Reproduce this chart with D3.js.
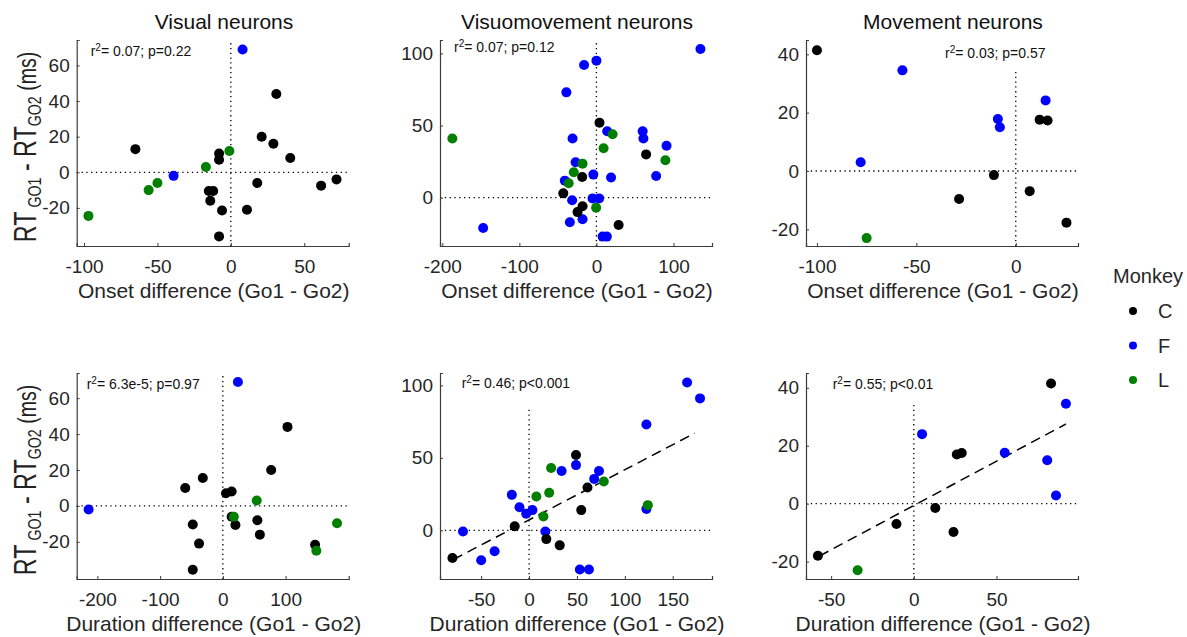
<!DOCTYPE html>
<html><head><meta charset="utf-8">
<script src="https://cdn.jsdelivr.net/npm/d3@7"></script>
<style>body{margin:0;background:#fff}svg{display:block;font-family:"Liberation Sans",Arial,sans-serif}</style>
</head><body><svg id="c" width="1187" height="637"></svg>
<script>
// ---------- data ----------
const monkeys = ["C", "F", "L"];
const monkeyColors = ["#000000", "#0000ff", "#007f00"];
const panelTitles = ["Visual neurons", "Visuomovement neurons", "Movement neurons"];
const xAxisLabels = ["Onset difference (Go1 - Go2)", "Duration difference (Go1 - Go2)"];
const statTexts = ["= 0.07; p=0.22", "= 0.07; p=0.12", "= 0.03; p=0.57",
                   "= 6.3e-5; p=0.97", "= 0.46; p<0.001", "= 0.55; p<0.01"];

// [monkey, x, y]
const visualOnset = [
  ["F",8,69],["F",-39,-2],
  ["C",-65,13],["C",-8,10.5],["C",-8,7],["C",31,44],["C",21,20],["C",29,16],["C",40.5,8],["C",18,-6],
  ["C",61.5,-7.5],["C",72,-4],["C",-15,-10.5],["C",-12,-10.5],["C",-14,-16],["C",-6,-21.5],["C",-8,-36],["C",11,-21],
  ["L",-1,12],["L",-17,3],["L",-50,-6],["L",-56,-10],["L",-97,-24.5]
];
const visuomovOnset = [
  ["F",135,103],["F",0,95],["F",-16,92],["F",-39,73],["F",14,46],["F",-31,41],["F",60,46],["F",61,41],["F",91,36],
  ["F",-27,24.5],["F",-4,16],["F",19,14],["F",77.5,15],["F",-41,11.8],["F",-31.5,-1.8],["F",-5,-0.5],["F",3.5,-0.5],
  ["F",-18,-15],["F",-34.5,-17],["F",-147,-21],["F",8,-27],["F",13.5,-27],
  ["C",4,52],["C",64.5,30],["C",-18.5,14.3],["C",-43,3],["C",-18,-6],["C",-24.5,-10],["C",28.8,-19],
  ["L",21,44],["L",-187,41],["L",9.3,34.3],["L",89.5,26],["L",-18,23.6],["L",-29.4,17.6],["L",-36,10],["L",-0.4,-7]
];
const movementOnset = [
  ["F",-57,34.5],["F",15,24.2],["F",-9,17.8],["F",-8,15],["F",-78,3],
  ["C",-100,41.4],["C",12,17.6],["C",16,17.3],["C",-11,-1.4],["C",7,-6.9],["C",-28.5,-9.6],["C",25.5,-17.7],
  ["L",-75,-23]
];
const visualDuration = [
  ["F",24,69],["F",-214,-2],
  ["C",103,44],["C",77,20],["C",-32,15.5],["C",-60,10],["C",5,7],["C",14,8],["C",14,-6],["C",20,-10.6],
  ["C",55,-8],["C",59,-16],["C",-48,-10.4],["C",-38,-21],["C",-48,-35.5],["C",147,-21.6],
  ["L",54,3],["L",17.5,-6],["L",149,-25],["L",182,-9.7]
];
const visuomovDuration = [
  ["F",165,102],["F",178.5,91],["F",122.5,73],["F",49,45],["F",34,41],["F",73,41],["F",68,35.5],["F",-18,24.5],
  ["F",-10,16],["F",-3,11.5],["F",3.5,14],["F",122.5,14.7],["F",-69,-0.7],["F",17,-0.7],["F",-36,-14.4],
  ["F",-50,-20.6],["F",53,-27],["F",62.5,-27],
  ["C",49,52],["C",61,29.6],["C",54.5,14],["C",-15,2.8],["C",18,-6],["C",32,-10.3],["C",-80,-19],
  ["L",23,43],["L",78,33.7],["L",21,26],["L",7.6,23.4],["L",15,9.6],["L",124,17.4]
];
const movementDuration = [
  ["F",92,34.5],["F",5,24],["F",55,17.6],["F",80.7,15],["F",86,2.8],
  ["C",83,41.5],["C",26,17],["C",29,17.5],["C",13,-1.5],["C",-10.5,-7],["C",24,-9.8],["C",-58,-18],
  ["L",-34,-23]
];

const xDomains = [[-105,80.3],[-203,150],[-105.5,31.3],[-233,200.6],[-93,191],[-65.2,99.3]];
const yDomains = [[-41.4,74.3],[-33.5,109.3],[-25.7,44.9],[-40.7,74],[-33.5,108.5],[-26,45.1]];
const xTicks = [[-100,-50,0,50],[-200,-100,0,100],[-100,-50,0],[-200,-100,0,100],[-50,0,50,100,150],[-50,0,50]];
const yTicks = [[-20,0,20,40,60],[0,50,100],[-20,0,20,40],[-20,0,20,40,60],[0,50,100],[-20,0,20,40]];
const zeroLineTop = [null, null, 35, null, 85.5, 35];
// regression fits (slope, intercept, xmin, xmax); null = none
const regressions = [null, null, null, null, [0.3456, 7.24, -79, 173], [0.3057, -0.63, -57, 92]];

// ---------- layout ----------
const panelData = [visualOnset, visuomovOnset, movementOnset, visualDuration, visuomovDuration, movementDuration];
const colLeft = [76.7, 440, 806];
const rowTop = [40, 373];
const W = 272, H = 206;
const titleCx = [224, 577, 953];
const statPos = [[90.7,50.7],[454,46.7],[945,53.3],[86.7,384],[461.7,383.3],[832.7,384]];
const axisColor = "#3c3c3c", textColor = "#262626";

const svg = d3.select("#c");
const colorOf = d3.scaleOrdinal().domain(monkeys).range(monkeyColors);

panelData.forEach((data, i) => {
  const row = Math.floor(i / 3), col = i % 3;
  const x0 = colLeft[col], y0 = rowTop[row];
  const x = d3.scaleLinear().domain(xDomains[i]).range([x0, x0 + W]);
  const y = d3.scaleLinear().domain(yDomains[i]).range([y0 + H, y0]);
  const g = svg.append("g");

  // zero reference lines
  g.append("line").attr("x1", x0).attr("x2", x0 + W).attr("y1", y(0)).attr("y2", y(0))
    .attr("stroke", "#000").attr("stroke-width", 1.3).attr("stroke-dasharray", "1.3,3.5");
  const vt = zeroLineTop[i] == null ? y0 + 3 : y(zeroLineTop[i]);
  g.append("line").attr("x1", x(0)).attr("x2", x(0)).attr("y1", y0 + H).attr("y2", vt)
    .attr("stroke", "#000").attr("stroke-width", 1.3).attr("stroke-dasharray", "1.3,3.5");

  // axes
  const xa = g.append("g").attr("transform", `translate(0,${y0 + H})`)
    .call(d3.axisBottom(x).tickValues(xTicks[i]).tickSize(-3).tickPadding(9).tickFormat(d3.format("d")));
  const ya = g.append("g").attr("transform", `translate(${x0},0)`)
    .call(d3.axisLeft(y).tickValues(yTicks[i]).tickSize(-3).tickPadding(7).tickFormat(d3.format("d")));
  [xa, ya].forEach(a => {
    a.select(".domain").attr("stroke", axisColor).attr("stroke-width", 1.2);
    a.selectAll(".tick line").attr("stroke", axisColor);
    a.selectAll(".tick text").attr("fill", textColor).style("font-size", "19px")
      .style("font-family", "'Liberation Sans', Arial, sans-serif");
  });
  xa.selectAll(".tick text").attr("dy", "0.71em").attr("y", 14);
  ya.selectAll(".tick text").text(d => d < 0 ? "-" + Math.abs(d) : d);
  xa.selectAll(".tick text").text(d => d < 0 ? "-" + Math.abs(d) : d);

  // regression
  const r = regressions[i];
  if (r) {
    g.append("line").attr("x1", x(r[2])).attr("y1", y(r[0] * r[2] + r[1]))
      .attr("x2", x(r[3])).attr("y2", y(r[0] * r[3] + r[1]))
      .attr("stroke", "#000").attr("stroke-width", 1.5).attr("stroke-dasharray", "10,6");
  }

  // points
  g.selectAll("circle").data(data).join("circle")
    .attr("cx", d => x(d[1])).attr("cy", d => y(d[2])).attr("r", 5)
    .attr("fill", d => colorOf(d[0]));

  // stat text
  const st = g.append("text").attr("x", statPos[i][0]).attr("y", statPos[i][1]).attr("dy", "0.35em")
    .attr("fill", "#111").style("font-size", "14px");
  st.append("tspan").text("r");
  st.append("tspan").text("2").style("font-size", "10px").attr("dy", "-5");
  st.append("tspan").text(statTexts[i]).attr("dy", "5");

  // x label
  g.append("text").attr("x", x0 + W / 2 + 1).attr("y", y0 + H + 45).attr("dy", "0.35em")
    .attr("text-anchor", "middle").attr("fill", textColor).style("font-size", "21px")
    .text(xAxisLabels[row]);

  if (row === 0) {
    g.append("text").attr("x", titleCx[col]).attr("y", 22).attr("dy", "0.35em")
      .attr("text-anchor", "middle").attr("fill", "#111").style("font-size", "21px")
      .text(panelTitles[col]);
  }
  if (col === 0) {
    const yl = g.append("text").attr("transform", `translate(${25},${y0 + H / 2 + 4}) rotate(-90) scale(0.75,1)`)
      .attr("text-anchor", "middle").attr("dy", "0.35em").attr("fill", "#222").style("font-size", "31px");
    yl.append("tspan").text("RT");
    yl.append("tspan").text(" GO1").style("font-size", "19px").attr("dy", "5");
    yl.append("tspan").text(" - RT").attr("dy", "-5");
    yl.append("tspan").text("GO2").style("font-size", "19px").attr("dy", "5");
    yl.append("tspan").text("  (ms)").attr("dy", "-5").style("font-size", "26px");
  }
});

// legend
const lg = svg.append("g");
lg.append("text").attr("x", 1113).attr("y", 276).attr("dy", "0.35em").attr("fill", textColor)
  .style("font-size", "20px").text("Monkey");
monkeys.forEach((m, k) => {
  const ly = 311 + k * 34.5;
  lg.append("circle").attr("cx", 1133).attr("cy", ly).attr("r", 4).attr("fill", monkeyColors[k]);
  lg.append("text").attr("x", 1158).attr("y", ly).attr("dy", "0.35em").attr("fill", textColor)
    .style("font-size", "20px").text(m);
});
</script></body></html>
